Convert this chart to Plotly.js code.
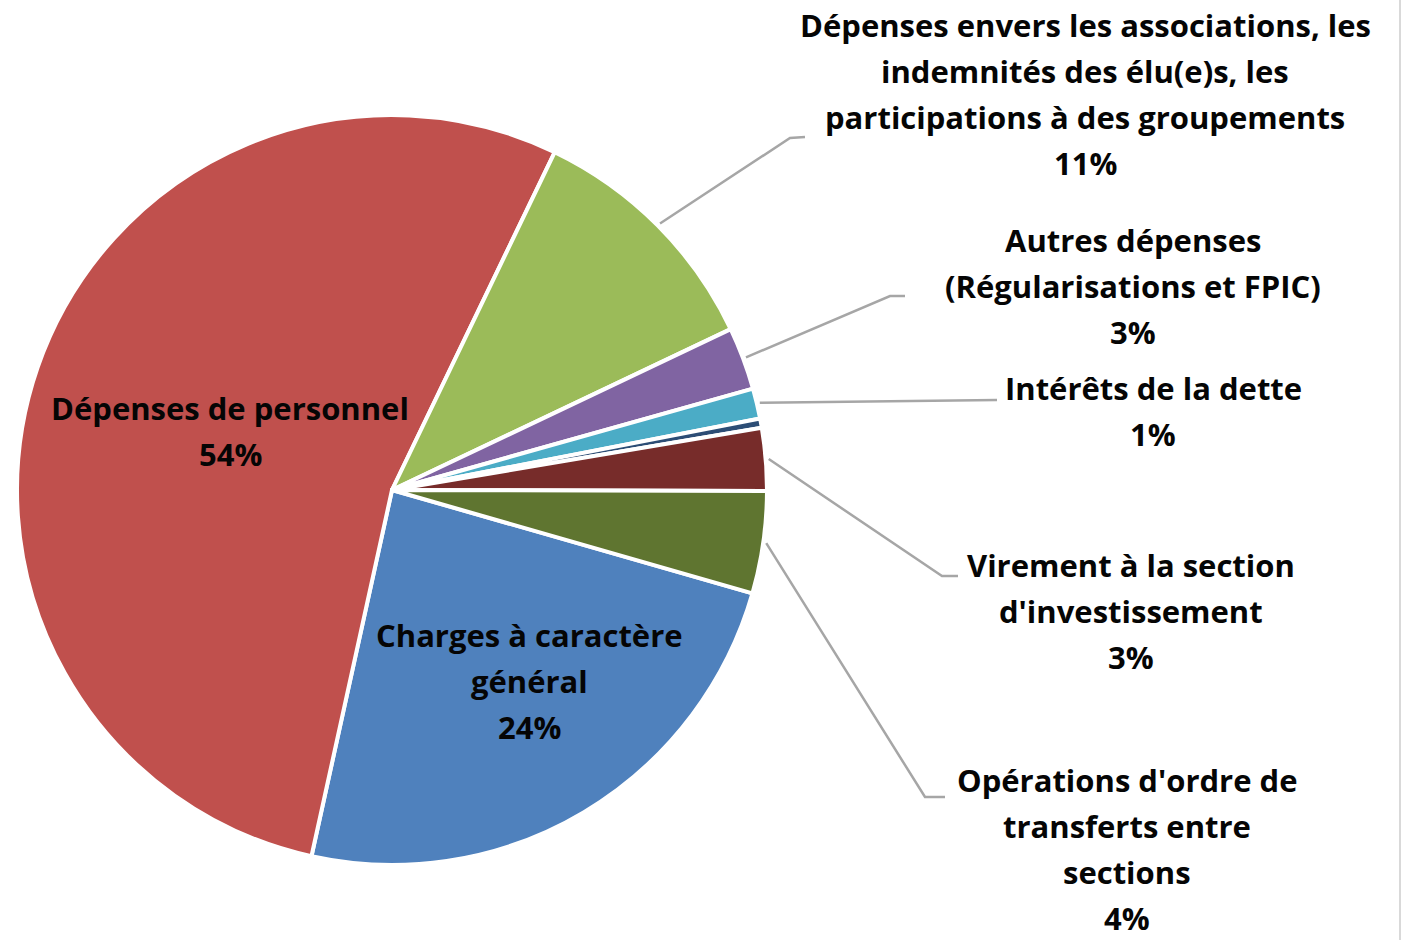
<!DOCTYPE html>
<html>
<head>
<meta charset="utf-8">
<script src="https://cdn.plot.ly/plotly-3.0.1.min.js"></script>
<style>html,body{margin:0;padding:0;background:#fff;}#chart{width:1404px;height:940px;}</style>
</head>
<body>
<div id="chart"></div>
<script>
// Data (clockwise order, as in the source chart)
const categories = [
  "Charges à caractère général",
  "Dépenses de personnel",
  "Dépenses envers les associations, les indemnités des élu(e)s, les participations à des groupements",
  "Autres dépenses (Régularisations et FPIC)",
  "Intérêts de la dette",
  "Autres",
  "Virement à la section d'investissement",
  "Opérations d'ordre de transferts entre sections"
];
const values = [24.0, 53.7, 10.8, 2.7, 1.3, 0.4, 2.7, 4.4];
const colors = ["#4F81BD", "#C0504D", "#9BBB59", "#8064A2", "#4BACC6", "#2C4D75", "#772C2A", "#5F7530"];
// Label lines (text shown), null = no label
const labelLines = [
  ["Charges à caractère", "général"],
  ["Dépenses de personnel"],
  ["Dépenses envers les associations, les", "indemnités des élu(e)s, les", "participations à des groupements"],
  ["Autres dépenses", "(Régularisations et FPIC)"],
  ["Intérêts de la dette"],
  null,
  ["Virement à la section", "d'investissement"],
  ["Opérations d'ordre de", "transferts entre", "sections"]
];

const W = 1404, H = 940;
const cx = 392, cy = 490, R = 375;
const rotation = 106;
// label layout (centre x, centre y of block), leader elbow points
const labelPos = [
  {x: 529, y: 681},
  {x: 230, y: 431},
  {x: 1085, y: 94, elbow: [[790, 138], [805, 137]]},
  {x: 1133, y: 286, elbow: [[890, 296], [905, 296]]},
  {x: 1153, y: 411, elbow: [[997, 400]]},
  null,
  {x: 1131, y: 611, elbow: [[942, 576], [958, 576]]},
  {x: 1127, y: 849, elbow: [[925, 797], [945, 797]]}
];
const lineH = 46;

const px = x => x / W;
const py = y => 1 - y / H;

const total = values.reduce((a, b) => a + b, 0);
const annotations = [];
const shapes = [];
let acc = 0;
values.forEach((v, i) => {
  const mid = rotation + (acc + v / 2) / total * 360;
  acc += v;
  const lines = labelLines[i];
  const pos = labelPos[i];
  if (!lines || !pos) return;
  const all = lines.concat([Math.round(v / total * 100) + "%"]);
  const y0 = pos.y - (all.length - 1) * lineH / 2;
  all.forEach((t, k) => {
    annotations.push({
      xref: "paper", yref: "paper", x: px(pos.x), y: py(y0 + k * lineH),
      xanchor: "center", yanchor: "middle", showarrow: false, borderpad: 0,
      text: "<b>" + t + "</b>",
      font: {family: "'Open Sans', Lato, sans-serif", size: 31, color: "#050505"}
    });
  });
  if (pos.elbow) {
    const a = mid * Math.PI / 180;
    const sx = cx + (R + 3) * Math.sin(a), sy = cy - (R + 3) * Math.cos(a);
    let d = "M" + px(sx) + "," + py(sy);
    pos.elbow.forEach(p => { d += " L" + px(p[0]) + "," + py(p[1]); });
    shapes.push({type: "path", xref: "paper", yref: "paper", path: d,
      line: {color: "#A6A6A6", width: 2.5}});
  }
});
shapes.push({type: "line", xref: "paper", yref: "paper", x0: px(1400), x1: px(1400), y0: 0, y1: 1,
  line: {color: "#D9D9D9", width: 2}});

const trace = {
  type: "pie",
  labels: categories,
  values: values,
  sort: false,
  direction: "clockwise",
  rotation: rotation,
  textinfo: "none",
  hoverinfo: "label+percent",
  marker: {colors: colors, line: {color: "#fff", width: 4}},
  domain: {x: [px(cx - R), px(cx + R)], y: [py(cy + R), py(cy - R)]},
  showlegend: false
};

Plotly.newPlot("chart", [trace], {
  width: W, height: H,
  margin: {l: 0, r: 0, t: 0, b: 0},
  paper_bgcolor: "#fff",
  showlegend: false,
  annotations: annotations,
  shapes: shapes
}, {displayModeBar: false, staticPlot: true});
</script>
</body>
</html>
